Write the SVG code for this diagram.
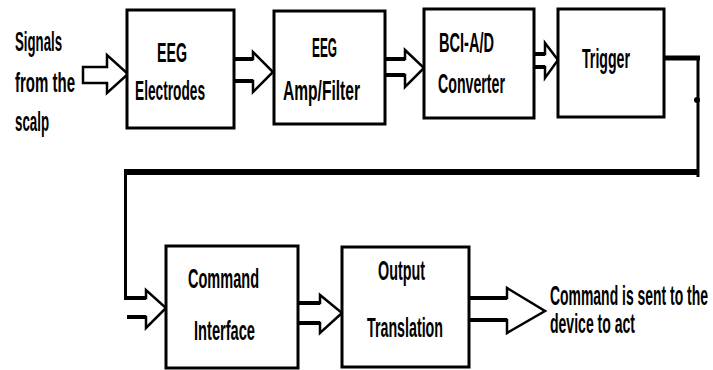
<svg xmlns="http://www.w3.org/2000/svg" width="713" height="370" viewBox="0 0 713 370">
<style>
.box{fill:#fff;stroke:#000;stroke-width:3}
.arr{fill:#fff;stroke:#000;stroke-width:2.5;stroke-linejoin:miter}
.shaft{stroke:#000;stroke-width:4;fill:none}
.t{font-family:"Liberation Sans Narrow","Liberation Sans",Arial,sans-serif;font-weight:bold;font-size:27px;fill:#000}
.ln{stroke:#000;fill:none}
</style>
<rect x="0" y="0" width="713" height="370" fill="#fff"/>
<g id="connectors">
  <polygon class="arr" points="83,67 107,67 107,55 128,74 107,93 107,83 83,83"/>
  <polyline class="arr" points="234,59 253,59 253,52 273,72 253,92 253,81 234,81"/>
  <line class="shaft" x1="234" y1="59" x2="253" y2="59"/><line class="shaft" x1="234" y1="81" x2="253" y2="81"/>
  <polyline class="arr" points="385,59 405,59 405,50 424,68 405,87 405,75 385,75"/>
  <line class="shaft" x1="385" y1="59" x2="405" y2="59"/><line class="shaft" x1="385" y1="75" x2="405" y2="75"/>
  <polyline class="arr" points="534,54 545,54 545,43 558,60 545,78 545,67 534,67"/>
  <line class="shaft" x1="534" y1="54" x2="545" y2="54"/><line class="shaft" x1="534" y1="67" x2="545" y2="67"/>
  <line class="ln" x1="663" y1="58" x2="700" y2="58" stroke-width="5"/>
  <line class="ln" x1="698" y1="56" x2="698" y2="177" stroke-width="3"/>
  <circle cx="697" cy="100" r="3" fill="#000"/>
  <line class="ln" x1="699" y1="172" x2="124" y2="172" stroke-width="6"/>
  <line class="ln" x1="125.5" y1="169" x2="125.5" y2="299" stroke-width="3"/>
  <polyline class="arr" points="126,298 146,298 146,290 166,308 146,328 146,317 127,317"/>
  <line class="shaft" x1="124" y1="298" x2="146" y2="298"/><line class="shaft" x1="127" y1="317" x2="146" y2="317"/>
  <polyline class="arr" points="298,303 320,303 320,295 342,313 320,333 320,323 298,323"/>
  <line class="shaft" x1="298" y1="303" x2="320" y2="303"/><line class="shaft" x1="298" y1="323" x2="320" y2="323"/>
  <polyline class="arr" points="469,298 507,298 507,288 545,311 507,333 507,320 469,320"/>
  <line class="shaft" x1="469" y1="298" x2="507" y2="298"/><line class="shaft" x1="469" y1="320" x2="507" y2="320"/>
</g>
<g id="input-label">
  <text class="t" x="15" y="51" textLength="47" lengthAdjust="spacingAndGlyphs">Signals</text>
  <text class="t" x="15" y="92" textLength="60" lengthAdjust="spacingAndGlyphs">from the</text>
  <text class="t" x="15" y="131" textLength="34" lengthAdjust="spacingAndGlyphs">scalp</text>
</g>
<g id="eeg-electrodes">
  <rect class="box" x="127" y="10" width="107" height="118"/>
  <text class="t" x="157" y="62" textLength="30" lengthAdjust="spacingAndGlyphs">EEG</text>
  <text class="t" x="135" y="100" textLength="70" lengthAdjust="spacingAndGlyphs">Electrodes</text>
</g>
<g id="eeg-amp-filter">
  <rect class="box" x="274" y="11" width="111" height="113"/>
  <text class="t" x="312" y="57" textLength="25" lengthAdjust="spacingAndGlyphs">EEG</text>
  <text class="t" x="283" y="100" textLength="77" lengthAdjust="spacingAndGlyphs">Amp/Filter</text>
</g>
<g id="bci-ad-converter">
  <rect class="box" x="424" y="9" width="110" height="109"/>
  <text class="t" x="439" y="52" textLength="55" lengthAdjust="spacingAndGlyphs">BCI-A/D</text>
  <text class="t" x="438" y="93" textLength="67" lengthAdjust="spacingAndGlyphs">Converter</text>
</g>
<g id="trigger">
  <rect class="box" x="558" y="9" width="106" height="108"/>
  <text class="t" x="582" y="68" textLength="48" lengthAdjust="spacingAndGlyphs">Trigger</text>
</g>
<g id="command-interface">
  <rect class="box" x="166" y="246" width="132" height="122"/>
  <text class="t" x="188" y="288" textLength="71" lengthAdjust="spacingAndGlyphs">Command</text>
  <text class="t" x="194" y="340" textLength="61" lengthAdjust="spacingAndGlyphs">Interface</text>
</g>
<g id="output-translation">
  <rect class="box" x="342" y="247" width="127" height="120"/>
  <text class="t" x="378" y="280" textLength="47" lengthAdjust="spacingAndGlyphs">Output</text>
  <text class="t" x="367" y="337" textLength="76" lengthAdjust="spacingAndGlyphs">Translation</text>
</g>
<g id="output-label">
  <text class="t" x="708" y="305" text-anchor="end" textLength="158" lengthAdjust="spacingAndGlyphs">Command is sent to the</text>
  <text class="t" x="550" y="333" textLength="85" lengthAdjust="spacingAndGlyphs">device to act</text>
</g>
</svg>
